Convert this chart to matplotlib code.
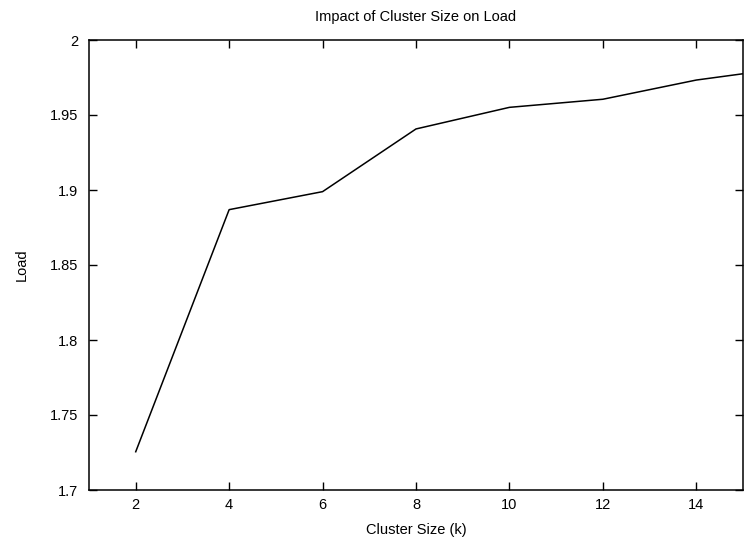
import matplotlib
matplotlib.use("Agg")
import matplotlib.pyplot as plt

plt.rcParams['font.family'] = ['Liberation Sans', 'DejaVu Sans']

# cluster size vs. measured load
cluster_size = [2, 4, 6, 8, 10, 12, 14, 15]
load = [1.7255, 1.8869, 1.8989, 1.9407, 1.9551, 1.9605, 1.9733, 1.9775]

x_ticks = [2, 4, 6, 8, 10, 12, 14]
y_ticks = [1.7, 1.75, 1.8, 1.85, 1.9, 1.95, 2.0]
y_tick_labels = ['1.7', '1.75', '1.8', '1.85', '1.9', '1.95', '2']

fig = plt.figure(figsize=(7.51, 5.40), dpi=100)
ax = fig.add_axes([89 / 751, 1 - 490 / 540, (743 - 89) / 751, (490 - 40) / 540])

ax.plot(cluster_size, load, color='black', linewidth=1.1)

ax.set_xlim(1, 15)
ax.set_ylim(1.7, 2.0)
ax.set_xticks(x_ticks)
ax.set_yticks(y_ticks)
ax.set_yticklabels(y_tick_labels)

# gnuplot-style inward ticks mirrored on all sides
ax.tick_params(direction='in', length=5.5, width=1.0, top=True, right=True,
               labelsize=10.5, colors='black')
ax.tick_params(axis='y', pad=8)
ax.tick_params(axis='x', pad=6)
for s in ax.spines.values():
    s.set_linewidth(1.1)

ax.set_title('Impact of Cluster Size on Load', fontsize=10.5, pad=14)
ax.set_xlabel('Cluster Size (k)', fontsize=10.5, labelpad=8)
ax.set_ylabel('Load', fontsize=10.5, labelpad=15)

fig.savefig('out.png', dpi=100)
